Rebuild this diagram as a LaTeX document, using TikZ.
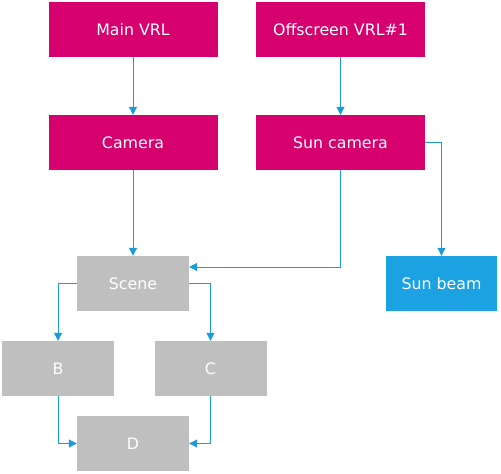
\documentclass[tikz,border=0pt]{standalone}
\usepackage{fontspec}
\setmainfont{DejaVu Sans}
\usetikzlibrary{arrows.meta,calc}
\definecolor{mag}{RGB}{214,0,110}
\definecolor{sblue}{RGB}{28,161,226}
\definecolor{gbox}{RGB}{191,191,191}
\definecolor{conn}{RGB}{28,155,218}
\tikzset{
  boxbase/.style={minimum height=55pt,inner sep=0pt,text=white,font=\fontsize{15.8}{19}\selectfont},
  magbox/.style={boxbase,fill=mag,minimum width=169pt},
  graybox/.style={boxbase,fill=gbox,minimum width=112pt},
  bluebox/.style={boxbase,fill=sblue,minimum width=111pt},
  conn/.style={draw=conn,line width=1pt,-{Triangle[length=8pt,width=8pt]}}
}
\begin{document}
\begin{tikzpicture}[x=1pt,y=-1pt]
\useasboundingbox (0,0) rectangle (501,474);
\node[magbox] (mainvrl) at (133,29.5) {Main VRL};
\node[magbox] (offvrl) at (340.5,29.5) {Offscreen VRL\#1};
\node[magbox] (camera) at (133,142.5) {Camera};
\node[magbox] (suncam) at (340.5,142.5) {Sun camera};
\node[graybox] (scene) at (133,283.5) {Scene};
\node[bluebox] (sunbeam) at (441.5,283.5) {Sun beam};
\node[graybox] (b) at (58,368.5) {B};
\node[graybox] (c) at (210.5,368.5) {C};
\node[graybox] (d) at (133,443.5) {D};
\draw[conn] (mainvrl.south) -- (camera.north);
\draw[conn] (offvrl.south) -- (suncam.north);
\draw[conn] (camera.south) -- (scene.north);
\draw[conn] (suncam.south) |- ([yshift=16.5pt]scene.east);
\draw[conn] (suncam.east) -| (sunbeam.north);
\draw[conn] (scene.west) -| (b.north);
\draw[conn] (scene.east) -| (c.north);
\draw[conn] (b.south) |- (d.west);
\draw[conn] (c.south) |- (d.east);
\end{tikzpicture}
\end{document}
